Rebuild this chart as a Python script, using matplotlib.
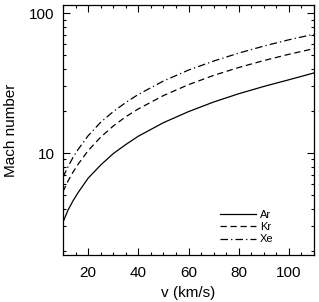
import numpy as np
import matplotlib.pyplot as plt
from matplotlib.ticker import MultipleLocator, LogLocator, FixedFormatter, FixedLocator

plt.rcParams['font.family'] = ['Liberation Sans', 'DejaVu Sans']

# values (denser at low v where the log axis bends the curves)
v = [10, 12, 14, 16, 20, 25, 30, 35, 40, 50, 60, 70, 80, 90, 100, 110]
mach_ar = [3.2, 3.9, 4.55, 5.2, 6.6, 8.2, 9.9, 11.5, 13.2, 16.5, 19.8, 23.2, 26.6, 30.0, 33.5, 37.5]
mach_kr = [5.3, 6.3, 7.3, 8.3, 10.4, 13.0, 15.6, 18.2, 20.7, 25.8, 30.9, 36.0, 41.0, 46.0, 51.0, 56.0]
mach_xe = [6.7, 8.0, 9.3, 10.6, 13.3, 16.6, 19.8, 23.0, 26.3, 32.8, 39.3, 45.6, 52.0, 58.4, 64.8, 71.0]

fig = plt.figure(figsize=(3.19, 3.02), dpi=100)
ax = fig.add_axes([63/319, 47/302, 251/319, 250/302])

lw = 0.9
ax.plot(v, mach_ar, color='black', lw=lw, ls='-', label='Ar')
ax.plot(v, mach_kr, color='black', lw=lw, ls=(0, (5, 3)), label='Kr')
ax.plot(v, mach_xe, color='black', lw=lw, ls=(0, (6, 2.5, 1, 2.5)), label='Xe')

ax.set_yscale('log')
ax.set_xlim(10, 110)
ax.set_ylim(1.86, 115)

ax.xaxis.set_major_locator(MultipleLocator(20))
ax.xaxis.set_minor_locator(MultipleLocator(5))
ax.yaxis.set_major_locator(FixedLocator([10, 100]))
ax.yaxis.set_major_formatter(FixedFormatter(['10', '100']))
ax.yaxis.set_minor_locator(LogLocator(base=10, subs=np.arange(2, 10)))
ax.yaxis.set_minor_formatter(FixedFormatter([]))

ax.tick_params(which='both', direction='in', top=True, right=True,
               labelsize=11, width=0.8, pad=6)
ax.tick_params(axis='x', which='major', pad=8)
ax.tick_params(which='major', length=5)
ax.tick_params(which='minor', length=2.5)
for s in ax.spines.values():
    s.set_linewidth(0.9)

ax.set_xlabel('v (km/s)', fontsize=11, labelpad=4)
ax.set_ylabel('Mach number', fontsize=11, labelpad=8)

ax.legend(loc='upper left', bbox_to_anchor=((220 - 63) / 251, (255 - 210) / 250),
          frameon=False, fontsize=8, handlelength=3.2, handletextpad=0.4,
          labelspacing=0.2, borderpad=0, borderaxespad=0)

fig.savefig('out.png', dpi=100)
